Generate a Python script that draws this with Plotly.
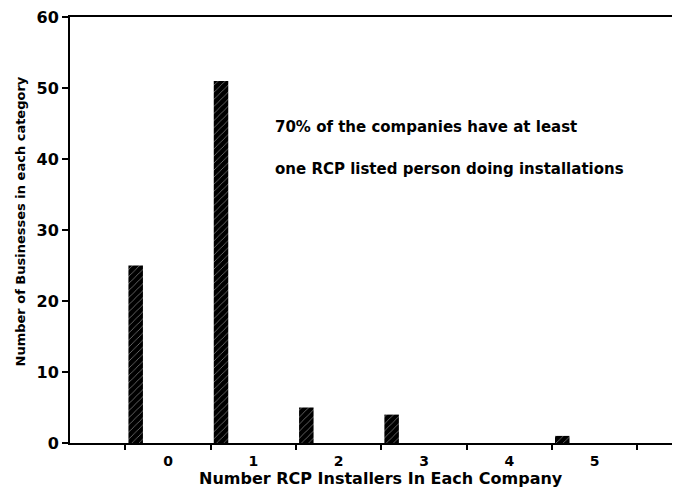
import plotly.graph_objects as go

# installers per company (category) and number of businesses
categories = [0, 1, 2, 3, 5]
businesses = [25, 51, 5, 4, 1]
tick_labels = ["0", "1", "2", "3", "4", "5"]

note_lines = ["70% of the companies have at least",
              "one RCP listed person doing installations"]

FONT = "DejaVu Sans, Liberation Sans, Arial, sans-serif"

fig = go.Figure(go.Bar(
    x=categories,
    y=businesses,
    width=0.17,
    offset=-0.465,
    marker=dict(
        color="black",
        line=dict(width=0),
        pattern=dict(shape="/", fgcolor="white", bgcolor="black",
                     size=5, solidity=0.15),
    ),
    showlegend=False,
))

# page body has an 8px margin, so the figure is a little smaller than the window
fig.update_layout(
    width=672,
    height=482,
    margin=dict(l=62, r=0, t=6, b=47),
    paper_bgcolor="white",
    plot_bgcolor="white",
    font=dict(family=FONT, color="black"),
    xaxis=dict(
        range=[-1.15, 6.0],
        tickmode="array",
        tickvals=list(range(len(tick_labels))),
        ticktext=tick_labels,
        ticks="",
        ticklabelstandoff=4,
        tickfont=dict(size=14, weight="bold"),
        showgrid=False,
        zeroline=False,
        showline=True,
        linecolor="black",
        linewidth=2,
        mirror=True,
        minor=dict(tick0=-0.5, dtick=1, ticks="outside", ticklen=5,
                   tickwidth=2, tickcolor="black", showgrid=False),
    ),
    yaxis=dict(
        range=[0, 60],
        tickvals=[0, 10, 20, 30, 40, 50, 60],
        ticks="outside",
        ticklen=6,
        tickwidth=2,
        tickcolor="black",
        tickfont=dict(size=16, weight="bold"),
        ticklabeloverflow="allow",
        showgrid=False,
        zeroline=False,
        showline=True,
        linecolor="black",
        linewidth=2,
    ),
    annotations=[
        dict(text=note_lines[0], xref="paper", yref="y", x=(273 - 70) / 610, y=44.5,
             xanchor="left", yanchor="middle", showarrow=False,
             font=dict(size=15, weight="bold")),
        dict(text=note_lines[1], xref="paper", yref="y", x=(273 - 70) / 610, y=38.6,
             xanchor="left", yanchor="middle", showarrow=False,
             font=dict(size=15, weight="bold")),
        dict(text="Number RCP Installers In Each Company", xref="paper", yref="paper",
             x=(381 - 70) / 610, y=0, yshift=-35, xanchor="center", yanchor="middle",
             showarrow=False, font=dict(size=16, weight="bold")),
        dict(text="Number of Businesses in each category", xref="paper", yref="paper",
             x=0, xshift=-50, y=0.52, textangle=-90,
             xanchor="center", yanchor="middle", showarrow=False,
             font=dict(size=13, weight="bold")),
    ],
)

fig.write_html("out.html")
